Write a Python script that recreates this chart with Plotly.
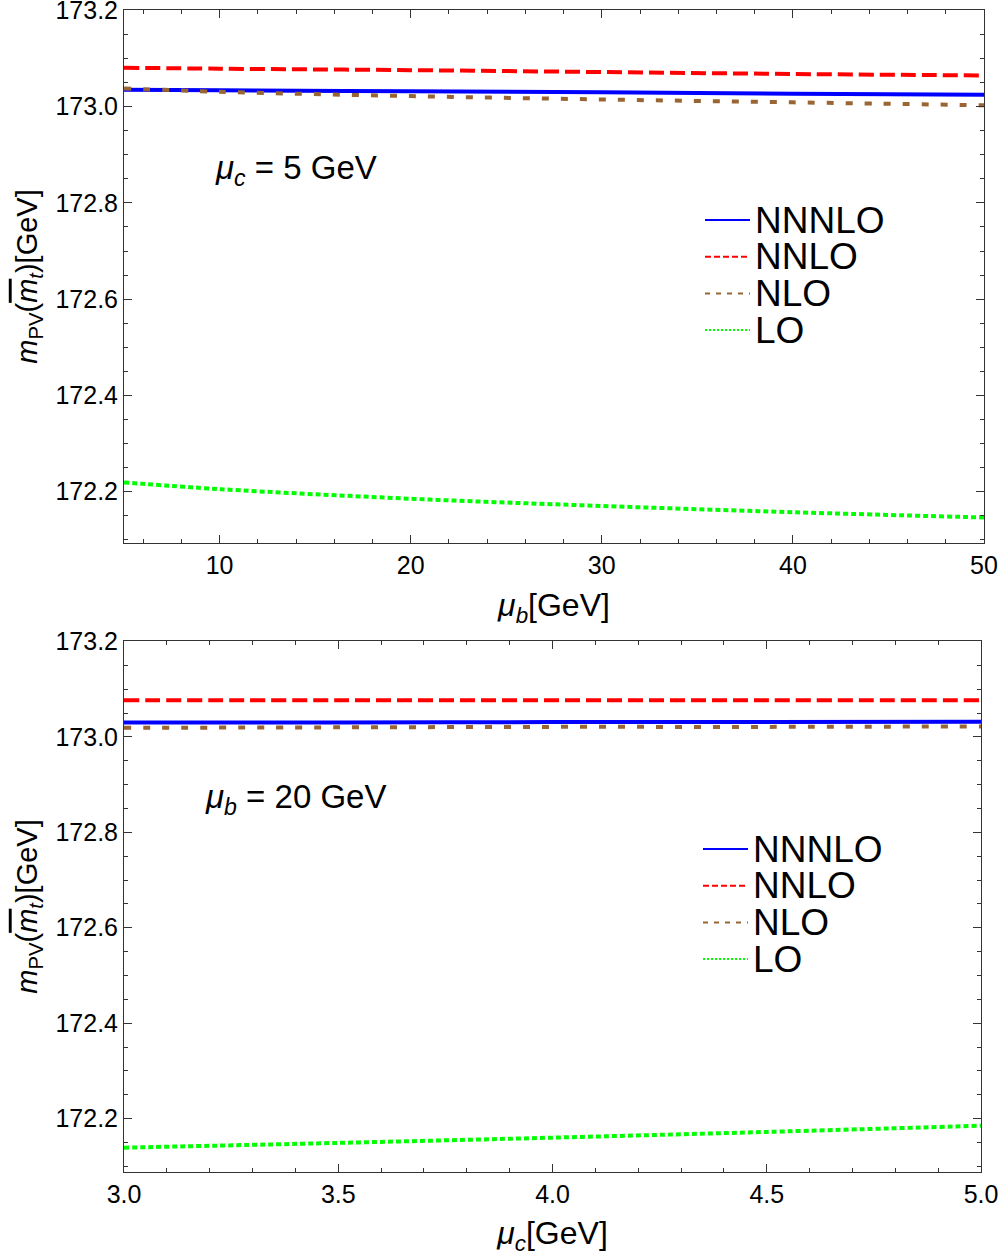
import plotly.graph_objects as go

# ---- data ----
mu_b = [5, 10, 20, 30, 40, 50]
top_nnnlo = [173.035, 173.034, 173.032, 173.030, 173.027, 173.025]
top_nnlo = [173.081, 173.079, 173.076, 173.072, 173.068, 173.065]
top_nlo = [173.038, 173.031, 173.022, 173.015, 173.009, 173.003]
top_lo = [172.219, 172.205, 172.185, 172.170, 172.157, 172.146]

mu_c = [3.0, 3.5, 4.0, 4.5, 5.0]
bot_nnnlo = [173.030, 173.030, 173.031, 173.031, 173.032]
bot_nnlo = [173.077, 173.077, 173.077, 173.077, 173.077]
bot_nlo = [173.019, 173.020, 173.021, 173.021, 173.022]
bot_lo = [172.139, 172.149, 172.160, 172.172, 172.185]

names = ["NNNLO", "NNLO", "NLO", "LO"]
colors = ["#0000ff", "#ff0000", "#996633", "#00ff00"]
dashes = ["solid", "15px,6px", "7px,12px", "5px,3px"]
leg_dashes = ["solid", "6px,3px", "5px,6px", "2px,2px"]

FONT = "Liberation Sans, Arial, sans-serif"

W, H = 1005, 1256
# target plot area in page pixels: left 124, right 984, top 10, bottom 1172
ML = 124
MT = 10
MR = W - 984
MB = H - 1172
PW, PH = W - ML - MR, H - MT - MB


def px_x(px):
    return (px - ML) / PW


def px_y(py):
    return (H - MB - py) / PH


fig = go.Figure()

top_sets = [top_nnnlo, top_nnlo, top_nlo, top_lo]
bot_sets = [bot_nnnlo, bot_nnlo, bot_nlo, bot_lo]

for i, name in enumerate(names):
    fig.add_trace(go.Scatter(x=mu_b, y=top_sets[i], mode="lines", name=name,
                             line=dict(color=colors[i], width=4, dash=dashes[i], shape="spline"),
                             xaxis="x", yaxis="y", showlegend=False))
    fig.add_trace(go.Scatter(x=mu_c, y=bot_sets[i], mode="lines", name=name,
                             line=dict(color=colors[i], width=4, dash=dashes[i], shape="spline"),
                             xaxis="x2", yaxis="y2", showlegend=False))

# manual legends (line samples + text), matching the reference's tight spacing
shapes = []
annotations = []
legend_specs = [(705, 220), (703, 849)]  # (left px of symbol, y px of first entry)
for lx, ly in legend_specs:
    for i, name in enumerate(names):
        yy = ly + i * 36.7
        shapes.append(dict(type="line", xref="paper", yref="paper",
                           x0=px_x(lx), x1=px_x(lx + 45), y0=px_y(yy), y1=px_y(yy),
                           line=dict(color=colors[i], width=2, dash=leg_dashes[i])))
        annotations.append(dict(text=name, xref="paper", yref="paper",
                                x=px_x(lx + 48), y=px_y(yy), xanchor="left", yanchor="middle",
                                showarrow=False,
                                font=dict(family=FONT, size=37, color="black")))

axis_common = dict(
    showline=True, linecolor="#333", linewidth=1, mirror="allticks",
    ticks="inside", ticklen=8, tickwidth=1, tickcolor="#333",
    showgrid=False, zeroline=False, automargin=False,
    tickfont=dict(family=FONT, size=25, color="black"),
)

ytitle = ("<i>m</i><sub>PV</sub>(<span style='text-decoration:overline'><i>m</i></span>"
          "<sub><i>t</i></sub>)[GeV]")

annotations += [
    dict(text="<i>μ</i><sub><i>c</i></sub> = 5 GeV", x=px_x(213), y=px_y(170),
         xref="paper", yref="paper",
         xanchor="left", yanchor="middle", showarrow=False,
         font=dict(family=FONT, size=33, color="black")),
    dict(text="<i>μ</i><sub><i>b</i></sub> = 20 GeV", x=px_x(203), y=px_y(799),
         xref="paper", yref="paper",
         xanchor="left", yanchor="middle", showarrow=False,
         font=dict(family=FONT, size=33, color="black")),
]

fig.update_layout(
    width=W, height=H,
    margin=dict(l=ML, r=MR, t=MT, b=MB, autoexpand=False),
    paper_bgcolor="white", plot_bgcolor="white",
    font=dict(family=FONT, color="black"),
    showlegend=False,
    xaxis=dict(domain=[0, 1], anchor="y", range=[5, 50], dtick=10, tick0=0,
               minor=dict(ticks="inside", dtick=2, ticklen=4, tickcolor="#333"),
               title=dict(text="<i>μ</i><sub><i>b</i></sub>[GeV]", font=dict(size=32), standoff=15),
               **axis_common),
    yaxis=dict(domain=[px_y(543), 1], anchor="x", range=[172.093, 173.201], dtick=0.2, tick0=173.0,
               tickformat=".1f", ticklabeloverflow="allow",
               minor=dict(ticks="inside", dtick=0.05, ticklen=4, tickcolor="#333"),
               title=dict(text=ytitle, font=dict(size=29), standoff=9),
               **axis_common),
    xaxis2=dict(domain=[0, px_x(981)], anchor="y2", range=[3, 5], dtick=0.5, tick0=3,
                tickformat=".1f",
                minor=dict(ticks="inside", dtick=0.1, ticklen=4, tickcolor="#333"),
                title=dict(text="<i>μ</i><sub><i>c</i></sub>[GeV]", font=dict(size=32), standoff=15),
                **axis_common),
    yaxis2=dict(domain=[0, px_y(641)], anchor="x2", range=[172.088, 173.201], dtick=0.2, tick0=173.0,
                tickformat=".1f",
                minor=dict(ticks="inside", dtick=0.05, ticklen=4, tickcolor="#333"),
                title=dict(text=ytitle, font=dict(size=29), standoff=9),
                **axis_common),
    shapes=shapes,
    annotations=annotations,
)

fig.write_html("out.html", config={"displayModeBar": False},
               post_script="document.body.style.margin='0px';")
